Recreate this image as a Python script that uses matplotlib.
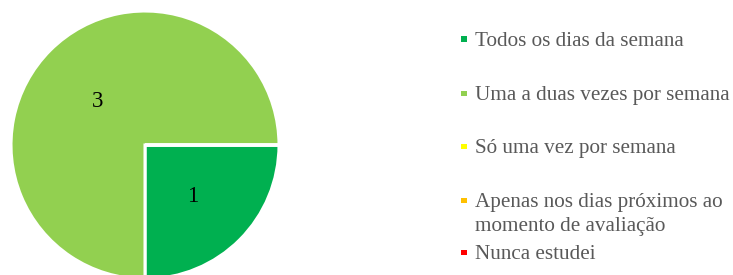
import matplotlib
matplotlib.use("Agg")
from matplotlib import pyplot as plt
from matplotlib.patches import Rectangle

categories = ["Todos os dias da semana",
              "Uma a duas vezes por semana",
              "Só uma vez por semana",
              "Apenas nos dias próximos ao\nmomento de avaliação",
              "Nunca estudei"]
counts = [1, 3, 0, 0, 0]
colours = ["#00B050", "#92D050", "#FFFF00", "#FFC000", "#FF0000"]

W, H = 733, 275
plt.rcParams['font.family'] = ['Liberation Serif', 'DejaVu Serif']
fig = plt.figure(figsize=(W / 100, H / 100), dpi=100)

# pie: centre (145,145) px, radius 134 px
cx, cy, r = 145, 145, 134
ax = fig.add_axes([(cx - r) / W, (H - cy - r) / H, 2 * r / W, 2 * r / H])
total = sum(counts)


def show_count(p):
    n = int(round(p * total / 100))
    return str(n) if n > 0 else ''


wedges, _, autotexts = ax.pie(counts, colors=colours, startangle=0, counterclock=False,
                              autopct=show_count, pctdistance=0.5,
                              wedgeprops=dict(edgecolor='white', linewidth=2.2),
                              textprops=dict(fontsize=16.5, color='black'))
for t in autotexts:
    x, y = t.get_position()
    t.set_position((x, y - 0.03))
ax.set_xlim(-1, 1)
ax.set_ylim(-1, 1)
ax.set_aspect('auto')
ax.axis('off')

# legend drawn entry by entry (uneven spacing as in the source)
baselines = [46, 100, 153, 207, 259]
for name, col, yb in zip(categories, colours, baselines):
    fig.add_artist(Rectangle((461 / W, 1 - (yb - 4) / H), 5.5 / W, 5.5 / H,
                             transform=fig.transFigure, color=col, lw=0))
    fig.text(475 / W, 1 - yb / H, name.split('\n')[0], fontsize=15.2,
             color='#595959', va='baseline', ha='left')
    if '\n' in name:
        fig.text(475 / W, 1 - (yb + 24) / H, name.split('\n')[1], fontsize=15.2,
                 color='#595959', va='baseline', ha='left')

plt.savefig("out.png", dpi=100)
